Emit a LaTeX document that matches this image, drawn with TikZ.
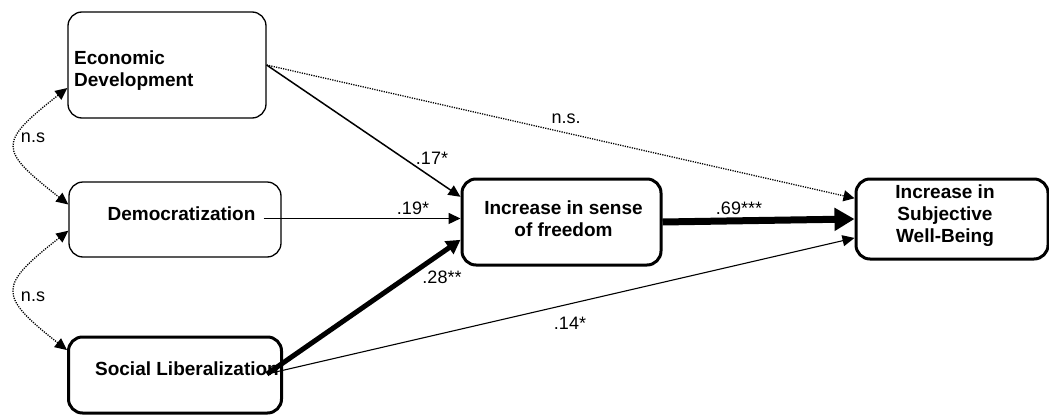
\documentclass[tikz,border=0pt]{standalone}
\usepackage{fontspec}
\setmainfont{Liberation Sans}
\usepackage{tikz}
\usetikzlibrary{arrows.meta,calc,positioning}
\tikzset{
  caja/.style={draw=black,rounded corners=14pt,line width=1.3pt,inner sep=0pt},
  cajagruesa/.style={caja,line width=3pt},
  rotulo/.style={font=\bfseries\fontsize{19}{22}\selectfont,align=center,inner sep=0pt},
  coef/.style={font=\fontsize{18}{20}\selectfont,inner sep=0pt},
  flecha/.style={-{Triangle[length=12pt,width=11pt]},line width=1.5pt},
  flechafina/.style={-{Triangle[length=12pt,width=11pt]},line width=1.1pt},
  flechagruesa/.style={-{Triangle[length=14pt,width=15pt]},line width=5pt},
  flechamax/.style={-{Triangle[length=20pt,width=22pt]},line width=7pt},
  punteada/.style={-{Triangle[length=11pt,width=11pt]},line width=1.3pt,dash pattern=on 1.2pt off 1.2pt},
  correl/.style={{Triangle[length=12pt,width=11pt]}-{Triangle[length=12pt,width=11pt]},line width=1.3pt,dash pattern=on 1.2pt off 1.2pt},
}
\begin{document}
\begin{tikzpicture}[x=1pt,y=-1pt]
\useasboundingbox (0,0) rectangle (1049,415);
% cajas
\node[caja,minimum width=198pt,minimum height=106pt] (econ) at (167,65) {};
\node[caja,minimum width=212pt,minimum height=75pt] (demo) at (175,219.5) {};
\node[cajagruesa,minimum width=213pt,minimum height=76pt] (socl) at (175,375) {};
\node[cajagruesa,minimum width=199pt,minimum height=86pt] (free) at (561.5,222) {};
\node[cajagruesa,minimum width=192pt,minimum height=80pt] (swb) at (952,219) {};
% textos
\node[rotulo,align=left,anchor=west] (econtx) at (74,71) {Economic\\Development};
\node[rotulo] (demotx) at (181.5,214) {Democratization};
\node[rotulo] (socltx) at (187,369) {Social Liberalization};
\node[rotulo] (freetx) at (563.5,219) {Increase in sense\\of freedom};
\node[rotulo] (swbtx) at (945,216) {Increase in\\Subjective\\Well-Being};
\coordinate (soclout) at (267,374);
% flechas
\draw[flecha] (econ.east) -- (free.166);
\draw[punteada] (econ.east) -- (swb.168);
\draw[flecha,shorten <=8pt] (demotx.east |- free.178) -- (free.178);
\draw[flechagruesa] (soclout) -- (free.190);
\draw[flechafina] (soclout) -- (swb.191);
\draw[flechamax] (free.east) -- (swb.west);
\draw[correl] (econ.193) .. controls +(-70,55) and +(-70,-55) .. (demo.172);
\draw[correl] (demo.186) .. controls +(-70,55) and +(-70,-55) .. (socl.167);
% coeficientes
\node[coef] (c17) at (432,158) {.17*};
\node[coef] (c19) at (413,208) {.19*};
\node[coef] (c28) at (442,277) {.28**};
\node[coef] (c69) at (739,208) {.69***};
\node[coef] (cns) at (566,119) {n.s.};
\node[coef] (c14) at (570,323) {.14*};
\node[coef] (ns1) at (33,138) {n.s};
\node[coef] (ns2) at (33,297) {n.s};
\end{tikzpicture}
\end{document}
